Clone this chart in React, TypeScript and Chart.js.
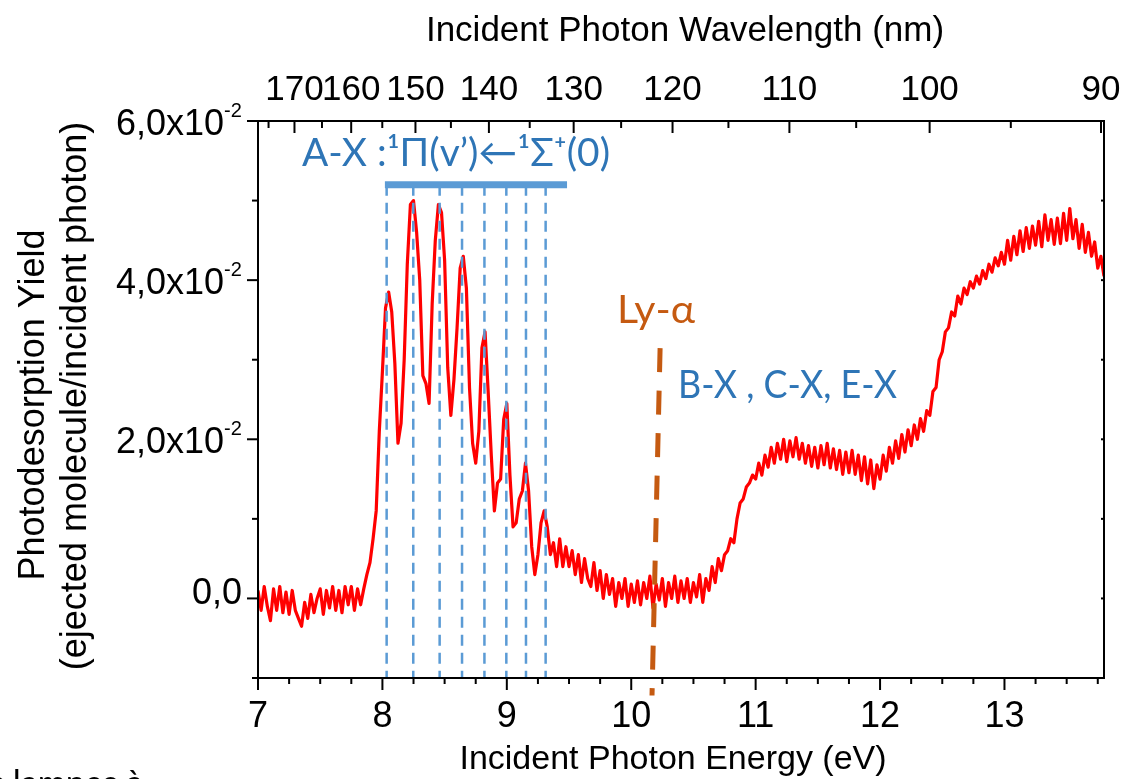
import React, { useEffect, useRef } from "react";
import { Chart, registerables } from "chart.js";

Chart.register(...registerables);

// ---------------- data ----------------
// Photodesorption yield spectrum, sampled every 0.025 eV from 7.000 eV to 13.800 eV
// values in units of 10^-2 (ejected molecule / incident photon)
const energyStart = 7.0;
const energyStep = 0.025;
const yieldValues: number[] = [
  0.10, -0.15, 0.15, -0.10, -0.28, 0.12, -0.15, 0.15, -0.18, 0.08, // 7.000
  -0.20, 0.10, -0.15, -0.25, -0.35, -0.05, -0.25, 0.05, -0.18, 0.00, // 7.250
  0.12, -0.20, 0.10, -0.12, 0.15, -0.15, 0.10, -0.18, 0.15, -0.08, // 7.500
  0.15, -0.15, 0.12, -0.08, 0.12, 0.30, 0.45, 0.75, 1.10, 2.10, // 7.750
  2.85, 3.65, 3.85, 3.60, 2.95, 1.95, 2.20, 3.00, 4.20, 4.95, // 8.000
  5.00, 4.60, 4.00, 2.80, 2.70, 2.45, 3.70, 4.50, 4.95, 4.85, // 8.250
  4.25, 2.90, 2.30, 2.75, 3.40, 4.15, 4.30, 3.90, 2.65, 1.95, // 8.500
  1.70, 2.10, 3.15, 3.35, 2.60, 1.80, 1.10, 1.45, 1.50, 2.25, // 8.750
  2.45, 1.55, 0.90, 0.95, 1.25, 1.35, 1.70, 1.35, 0.65, 0.30, // 9.000
  0.55, 0.95, 1.10, 0.90, 0.55, 0.70, 0.40, 0.75, 0.40, 0.65, // 9.250
  0.40, 0.60, 0.30, 0.55, 0.20, 0.50, 0.25, 0.15, 0.45, 0.10, // 9.500
  0.35, 0.00, 0.30, 0.05, 0.25, -0.10, 0.20, 0.00, 0.25, -0.10, // 9.750
  0.18, -0.05, 0.22, -0.08, 0.20, 0.00, 0.28, -0.12, 0.18, -0.02, // 10.000
  0.25, -0.10, 0.20, 0.00, 0.28, -0.05, 0.22, 0.00, 0.25, -0.05, // 10.250
  0.20, 0.02, 0.30, -0.05, 0.25, 0.10, 0.40, 0.20, 0.50, 0.35, // 10.500
  0.55, 0.60, 0.75, 0.70, 1.00, 1.20, 1.25, 1.40, 1.45, 1.55, // 10.750
  1.50, 1.70, 1.55, 1.80, 1.65, 1.90, 1.70, 1.95, 1.75, 2.00, // 11.000
  1.72, 1.98, 1.78, 2.02, 1.75, 1.95, 1.70, 1.92, 1.66, 1.90, // 11.250
  1.64, 1.92, 1.68, 1.95, 1.64, 1.88, 1.62, 1.86, 1.56, 1.84, // 11.500
  1.58, 1.86, 1.56, 1.80, 1.48, 1.78, 1.44, 1.74, 1.38, 1.68, // 11.750
  1.50, 1.80, 1.60, 1.90, 1.70, 1.98, 1.76, 2.06, 1.84, 2.12, // 12.000
  1.92, 2.18, 2.00, 2.26, 2.10, 2.36, 2.30, 2.60, 2.65, 3.00, // 12.250
  3.10, 3.35, 3.40, 3.60, 3.55, 3.80, 3.70, 3.90, 3.82, 3.98, // 12.500
  3.90, 4.05, 3.95, 4.12, 4.02, 4.20, 4.10, 4.28, 4.18, 4.35, // 12.750
  4.20, 4.50, 4.25, 4.55, 4.32, 4.62, 4.36, 4.66, 4.40, 4.68, // 13.000
  4.44, 4.74, 4.42, 4.82, 4.50, 4.76, 4.45, 4.78, 4.46, 4.84, // 13.250
  4.50, 4.90, 4.52, 4.76, 4.40, 4.70, 4.35, 4.60, 4.30, 4.48, // 13.500
  4.15, 4.30, 4.05, // 13.750
];

const energyMin = 7;
const energyMax = 13.8;
const yMin = -1;
const yMax = 6;

const energyMajorTicks = [7, 8, 9, 10, 11, 12, 13];
const energyMinorTicks = [
  7.25, 7.5, 7.75, 8.25, 8.5, 8.75, 9.25, 9.5, 9.75, 10.25, 10.5, 10.75,
  11.25, 11.5, 11.75, 12.25, 12.5, 12.75, 13.25, 13.5, 13.75,
];
const yMajorTicks = [0, 2, 4, 6];
const yMinorTicks = [-1, 1, 3, 5];
const yMajorLabels = ["0,0", "2,0x10", "4,0x10", "6,0x10"];
const yExponentLabel = "-2";

const wavelengthMajorTicks = [170, 160, 150, 140, 130, 120, 110, 100, 90];
const wavelengthMinorTicks = [175, 165, 155, 145, 135, 125, 115, 105, 95];
const hcOverE = 1239.84; // eV·nm

// A-X vibronic progression markers
const axTransitionEnergies = [8.034, 8.248, 8.46, 8.64, 8.82, 8.996, 9.154, 9.312];
const axBarStart = 8.02;
const axBarEnd = 9.484;
const axBarLevel = 5.2;
const axDashBottom = -1.0;

// Lyman-alpha marker
const lyAlphaTopEnergy = 10.232;
const lyAlphaTopLevel = 3.145;
const lyAlphaBottomEnergy = 10.167;
const lyAlphaBottomLevel = -1.22;

// ---------------- text ----------------
const xTitle = "Incident Photon Energy (eV)";
const x2Title = "Incident Photon Wavelength (nm)";
const yTitle1 = "Photodesorption Yield";
const yTitle2 = "(ejected molecule/incident photon)";
const axLabel = "A-X :¹Π(v’)←¹Σ⁺(0)";
const lyLabel = "Ly-α";
const bxLabel = "B-X , C-X, E-X";
const footerText = "s lampes à";

const ARIAL = '"Liberation Sans", Arial, sans-serif';
const CAL = 'Lato, "Open Sans", "Noto Sans", sans-serif';
const BLUE_TEXT = "#2E75B6";
const BLUE_LINE = "#5B9BD5";
const ORANGE = "#C55A11";

const fitText = (ctx: CanvasRenderingContext2D, text: string, left: number, baseline: number, width: number) => {
  const w = ctx.measureText(text).width;
  ctx.save();
  ctx.translate(left, baseline);
  ctx.scale(width / w, 1);
  ctx.textAlign = "left";
  ctx.fillText(text, 0, 0);
  ctx.restore();
};

const decorPlugin = {
  id: "decor",
  afterDraw(chart: any) {
    const { ctx, chartArea: a } = chart;
    const xs = chart.scales.x;
    const ys = chart.scales.y;
    ctx.save();
    ctx.strokeStyle = "#000";
    ctx.lineWidth = 2;
    ctx.lineCap = "butt";
    ctx.strokeRect(a.left, a.top, a.right - a.left, a.bottom - a.top);
    const seg = (x1: number, y1: number, x2: number, y2: number) => {
      ctx.beginPath();
      ctx.moveTo(x1, y1);
      ctx.lineTo(x2, y2);
      ctx.stroke();
    };
    energyMajorTicks.forEach((e) => {
      const p = xs.getPixelForValue(e);
      seg(p, a.bottom, p, a.bottom + 12);
    });
    energyMinorTicks.forEach((e) => {
      const p = xs.getPixelForValue(e);
      seg(p, a.bottom, p, a.bottom + 6);
    });
    yMajorTicks.forEach((v) => {
      const p = ys.getPixelForValue(v);
      seg(a.left - 11, p, a.left, p);
      seg(a.right - 3, p, a.right, p);
    });
    yMinorTicks.forEach((v) => {
      const p = ys.getPixelForValue(v);
      seg(a.left - 6, p, a.left, p);
      seg(a.right - 3, p, a.right, p);
    });
    wavelengthMajorTicks.forEach((w) => {
      const p = xs.getPixelForValue(hcOverE / w);
      seg(p, a.top, p, a.top + 12);
    });
    wavelengthMinorTicks.forEach((w) => {
      const p = xs.getPixelForValue(hcOverE / w);
      seg(p, a.top, p, a.top + 7);
    });

    ctx.fillStyle = "#000";
    ctx.textBaseline = "alphabetic";
    ctx.textAlign = "center";
    ctx.font = `36px ${ARIAL}`;
    energyMajorTicks.forEach((e) => {
      ctx.fillText(String(e), xs.getPixelForValue(e), a.bottom + 49);
    });
    ctx.font = `35px ${ARIAL}`;
    wavelengthMajorTicks.forEach((w) => {
      ctx.fillText(String(w), xs.getPixelForValue(hcOverE / w), a.top - 21);
    });
    // y tick labels
    yMajorTicks.forEach((v, i) => {
      const p = ys.getPixelForValue(v);
      ctx.font = `36px ${ARIAL}`;
      ctx.textAlign = "right";
      if (v === 0) {
        ctx.fillText(yMajorLabels[i], a.left - 16, p + 6);
      } else {
        ctx.fillText(yMajorLabels[i], a.left - 34, p + 14);
        ctx.font = `20px ${ARIAL}`;
        ctx.textAlign = "left";
        ctx.fillText(yExponentLabel, a.left - 34, p - 4);
      }
    });
    // axis titles
    ctx.textAlign = "center";
    ctx.font = `35px ${ARIAL}`;
    ctx.fillText(x2Title, 685, 41);
    ctx.font = `34px ${ARIAL}`;
    ctx.fillText(xTitle, 673, 769);
    ctx.font = `36px ${ARIAL}`;
    ctx.save();
    ctx.translate(44, 405);
    ctx.rotate(-Math.PI / 2);
    ctx.fillText(yTitle1, 0, 0);
    ctx.restore();
    ctx.save();
    ctx.translate(86, 396);
    ctx.rotate(-Math.PI / 2);
    ctx.fillText(yTitle2, 0, 0);
    ctx.restore();

    // annotations
    ctx.font = `38px ${CAL}`;
    ctx.fillStyle = BLUE_TEXT;
    fitText(ctx, axLabel, 302, 166, 308);
    fitText(ctx, bxLabel, 678, 398, 219);
    ctx.fillStyle = ORANGE;
    fitText(ctx, lyLabel, 617, 323, 78);

    ctx.fillStyle = "#000";
    ctx.font = `34px ${CAL}`;
    ctx.textAlign = "right";
    ctx.fillText(footerText, 143, 795);
    ctx.restore();
  },
};

const App = () => {
  const ref = useRef<HTMLCanvasElement>(null);
  useEffect(() => {
    if (!ref.current) return;
    const spectrum = yieldValues.map((v, i) => ({ x: energyStart + i * energyStep, y: v }));
    const axDashSets = axTransitionEnergies.map((e) => ({
      data: [
        { x: e, y: axBarLevel },
        { x: e, y: axDashBottom },
      ],
      borderColor: BLUE_LINE,
      borderWidth: 2.5,
      borderDash: [11, 7],
      pointRadius: 0,
      order: 1,
    }));
    const chart = new Chart(ref.current, {
      type: "line",
      data: {
        datasets: [
          {
            data: spectrum,
            borderColor: "#FF0000",
            borderWidth: 3.2,
            pointRadius: 0,
            tension: 0,
            borderJoinStyle: "round",
            order: 10,
          },
          ...axDashSets,
          {
            data: [
              { x: axBarStart, y: axBarLevel },
              { x: axBarEnd, y: axBarLevel },
            ],
            borderColor: BLUE_LINE,
            borderWidth: 7,
            pointRadius: 0,
            order: 0,
          },
          {
            data: [
              { x: lyAlphaTopEnergy, y: lyAlphaTopLevel },
              { x: lyAlphaBottomEnergy, y: lyAlphaBottomLevel },
            ],
            borderColor: ORANGE,
            borderWidth: 5,
            borderDash: [24, 18.5],
            borderCapStyle: "butt",
            pointRadius: 0,
            clip: false,
            order: 0,
          },
        ] as any,
      },
      options: {
        animation: false,
        responsive: false,
        devicePixelRatio: 1,
        events: [],
        layout: { padding: { left: 258, right: 37, top: 121, bottom: 101 } },
        scales: {
          x: { type: "linear", min: energyMin, max: energyMax, display: false },
          y: { type: "linear", min: yMin, max: yMax, display: false },
        },
        plugins: { legend: { display: false }, tooltip: { enabled: false } },
      },
      plugins: [decorPlugin],
    });
    return () => chart.destroy();
  }, []);
  return (
    <div style={{ position: "fixed", left: 0, top: 0, width: 1141, height: 779, background: "#fff" }}>
      <canvas ref={ref} width={1141} height={779} style={{ display: "block" }} />
    </div>
  );
};

export default App;
